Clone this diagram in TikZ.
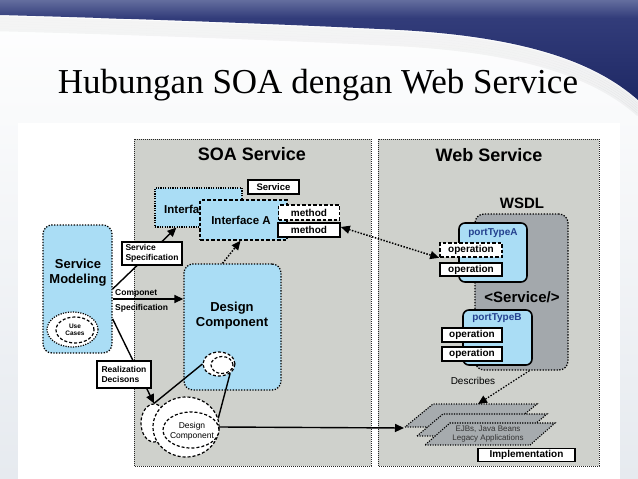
\documentclass[tikz,border=0pt]{standalone}
\usepackage{fontspec}
\setmainfont{Liberation Serif}
\setsansfont{Liberation Sans}
\usetikzlibrary{arrows.meta,shapes.geometric,calc}
\definecolor{panelgrey}{HTML}{CFD1CC}
\definecolor{lblue}{HTML}{AADDF5}
\definecolor{wsdlgrey}{HTML}{A3A8AC}
\definecolor{paragrey}{HTML}{A6ABAE}
\definecolor{navytxt}{HTML}{23408E}
\definecolor{bandtop}{HTML}{6670A0}
\definecolor{bandmid}{HTML}{323C7A}
\definecolor{bandbot}{HTML}{1E2864}
\definecolor{slidebot}{HTML}{E6EAEF}
\newcommand\myfs[1]{\fontsize{#1}{\fpeval{#1*1.15}}\selectfont}
\begin{document}
\begin{tikzpicture}[x=1pt,y=-1pt,
  panel/.style={draw=black!85, fill=panelgrey, dash pattern=on 0.8pt off 1.2pt, line width=0.8pt},
  dotbox/.style={draw=black, fill=lblue, dash pattern=on 1.3pt off 1.5pt, line width=1.3pt, rounded corners=9pt, inner sep=0pt},
  solidblue/.style={draw=black, fill=lblue, line width=1.6pt, rounded corners=6pt, inner sep=0pt},
  whitebox/.style={draw=black, fill=white, line width=1.6pt, inner sep=0pt},
  dashbox/.style={draw=black, fill=white, dash pattern=on 3.5pt off 2pt, line width=1.6pt, inner sep=0pt},
  blob/.style={ellipse, draw=black, fill=white, dash pattern=on 3pt off 2pt, line width=1.2pt, inner sep=0pt},
  arr/.style={-{Triangle[length=9pt,width=8pt]}, line width=1.4pt},
  dotarr/.style={-{Triangle[length=9pt,width=8pt]}, line width=1.5pt, dash pattern=on 1.5pt off 1.5pt},
  bf/.style={font=\sffamily\bfseries\myfs{#1}},
  rg/.style={font=\sffamily\myfs{#1}},
  para/.style={draw=black, fill=paragrey, dash pattern=on 1.2pt off 1.3pt, line width=1.1pt}
]
\useasboundingbox (0,0) rectangle (638,479);
% slide background
\shade[top color=white, bottom color=slidebot] (0,0) rectangle (638,479);
\foreach \k in {1,...,6}{
  \draw[black, opacity=0.04, line width=2.5pt]
    (638,100+2.5*\k) .. controls (595,62+2.5*\k) and (525,37+2.5*\k) .. (400,30+2.5*\k) .. controls (260,23+2.5*\k) and (110,18+2.5*\k) .. (0,15+2.5*\k);
}
\begin{scope}
  \clip (0,0) -- (638,0) -- (638,100) .. controls (595,62) and (525,37) .. (400,30) .. controls (260,23) and (110,18) .. (0,15) -- cycle;
  \shade[top color=bandtop, bottom color=bandmid] (0,-1) rectangle (638,18);
  \shade[top color=bandmid, bottom color=bandbot] (0,18) rectangle (638,101);
\end{scope}
% title
\node[anchor=base, font=\fontsize{35}{40}\selectfont, inner sep=0pt] (title) at (318,93) {Hubungan SOA dengan Web Service};
% white diagram panel
\fill[white] (18,123) rectangle (620,479);
% panels
\draw[panel] (134,139) rectangle (371,466);
\draw[panel] (378,139) rectangle (599,466);
\node[bf=18] (soat) at (252,154) {SOA Service};
\node[bf=18] (webt) at (489,155) {Web Service};

% Service modeling
\node[dotbox, minimum width=69pt, minimum height=128pt] (sm) at (77.5,289) {};
\node[bf=13, align=center] (smt) at (78,273) {Service\\Modeling};
\node[blob, draw=black, dash pattern=on 1.2pt off 1.3pt, minimum width=51pt, minimum height=35pt] (ucout) at (72.5,329.5) {};
\node[blob, minimum width=38pt, minimum height=26pt] (ucin) at (75,330) {};
\node[bf=6.5, align=center] (uct) at (75,330) {Use\\Cases};

% interfaces
\node[draw=black, fill=lblue, dash pattern=on 1.2pt off 1.2pt, line width=1.3pt, minimum width=87pt, minimum height=39pt, inner sep=0pt] (ifb) at (198.5,207.5) {};
\node[bf=11.5, anchor=west, inner sep=0pt] (ifbt) at (164,209) {Interface};
\node[draw=black, fill=lblue, dash pattern=on 3.5pt off 2pt, line width=1.6pt, minimum width=87pt, minimum height=40pt, inner sep=0pt] (ifa) at (243.5,220) {};
\node[bf=11.5] (ifat) at (241,220) {Interface A};
\node[whitebox, bf=9.5, minimum width=51pt, minimum height=14pt] (svc) at (273.5,187) {Service};
\node[dashbox, bf=10, minimum width=61pt, minimum height=15pt] (m1) at (309,212.5) {method};
\node[whitebox, bf=10, minimum width=62pt, minimum height=14pt] (m2) at (309,230) {method};

% design component
\node[dotbox, minimum width=97pt, minimum height=126pt] (dc) at (232.5,327) {};
\node[bf=13, align=center] (dct) at (232,316) {Design\\Component};
\node[blob, minimum width=32pt, minimum height=24pt] (sco) at (219,364) {};
\node[blob, minimum width=22pt, minimum height=17pt] (sci) at (222,365) {};

% bottom design component group
\node[blob, minimum width=26pt, minimum height=38pt] (bl) at (154,423) {};
\node[blob, minimum width=66pt, minimum height=60pt] (bb) at (186,427) {};
\node[blob, minimum width=56pt, minimum height=36pt] (bi) at (191,430) {};
\node[rg=8.5, align=center] (bit) at (192,431) {Design\\Component};

% WSDL
\node[draw=black, fill=wsdlgrey, dash pattern=on 1.3pt off 1.5pt, line width=1.3pt, rounded corners=9pt, minimum width=93pt, minimum height=156pt, inner sep=0pt] (wsdl) at (521.5,292) {};
\node[bf=15] (wsdlt) at (522,203) {WSDL};
\node[bf=15] (svct) at (522,297) {<Service/>};
\node[solidblue, minimum width=68pt, minimum height=59pt] (pta) at (493,252.5) {};
\node[bf=10, text=navytxt] (ptat) at (493,233) {portTypeA};
\node[dashbox, bf=10, minimum width=62pt, minimum height=14pt] (opa1) at (471,250) {operation};
\node[whitebox, bf=10, minimum width=62pt, minimum height=13pt] (opa2) at (471,269.5) {operation};
\node[solidblue, minimum width=69pt, minimum height=55pt] (ptb) at (497.5,337.5) {};
\node[bf=10, text=navytxt] (ptbt) at (497,318) {portTypeB};
\node[whitebox, bf=10, minimum width=60pt, minimum height=14pt] (opb1) at (472,335) {operation};
\node[whitebox, bf=10, minimum width=60pt, minimum height=14pt] (opb2) at (472,354) {operation};

% implementation stack
\draw[para] (405,427) -- (509,427) -- (537,404) -- (433,404) -- cycle;
\draw[para] (417,436) -- (521,436) -- (547,414) -- (443,414) -- cycle;
\draw[para] (425,445) -- (530,445) -- (555,423) -- (450,423) -- cycle;
\coordinate (pleft) at (404,428);
\coordinate (ptop) at (478,404);
\node[rg=8, text=black!80, align=center] (ejb) at (488,434) {EJBs, Java Beans\\Legacy Applications};
\node[whitebox, bf=10, minimum width=97pt, minimum height=13pt] (impl) at (526.5,455) {Implementation};
\node[rg=10] (desc) at (473,381) {Describes};

% connectors
\draw[arr] (sm.east) -- ([xshift=22pt]ifb.south west);
\node[whitebox, line width=1.5pt, bf=8.5, align=left, minimum width=60pt, minimum height=23pt] (ss) at (152,253.5) {Service\\Specification};
\draw[arr] ([yshift=-10pt]sm.east) -- ([yshift=-10pt]sm.east -| dc.west);
\node[bf=8.5, anchor=base west, inner sep=0pt] (cs1) at (115,295) {Componet};
\node[bf=8.5, anchor=base west, inner sep=0pt] (cs2) at (115,310) {Specification};
\draw[line width=1.4pt] (sco.west) -- (bl.north);
\draw[line width=1.4pt] (sco.-40) -- (bb.15);
\draw[arr] ([yshift=-30pt]sm.east) -- (bl.north);
\node[whitebox, line width=1.5pt, bf=8.5, align=left, minimum width=54pt, minimum height=27pt] (rd) at (124,374.5) {Realization\\Decisons};
\draw[dotarr] ([xshift=-10pt]dc.north) -- ([xshift=-3pt]ifa.south);
\draw[dotarr, {Triangle[length=9pt,width=8pt]}-{Triangle[length=9pt,width=8pt]}] ([yshift=3pt]m2.east) -- (opa1.south west);
\draw[arr] (bb.east) -- (pleft);
\draw[dotarr, line width=1.2pt] ([xshift=8pt]wsdl.south) -- (ptop);
\end{tikzpicture}
\end{document}
